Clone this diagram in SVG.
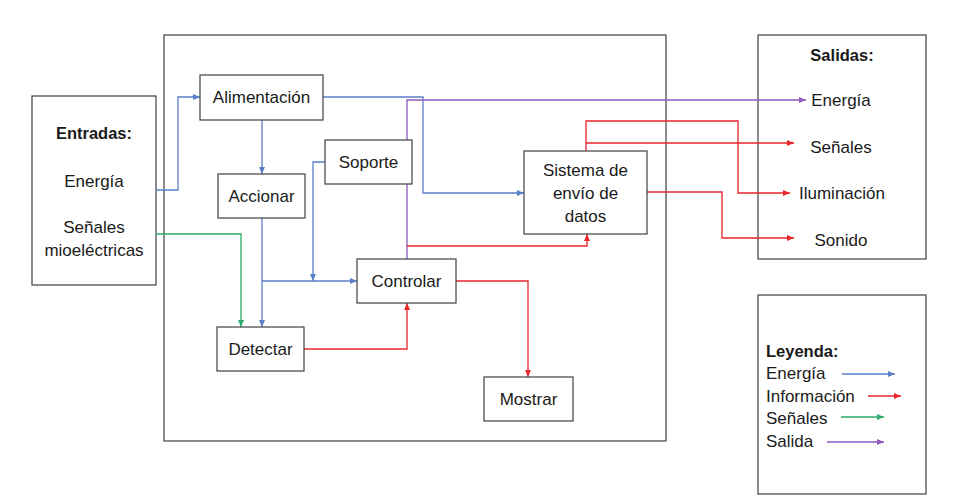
<svg xmlns="http://www.w3.org/2000/svg" width="955" height="499" viewBox="0 0 955 499">
<style>
.box{fill:#fff;stroke:#404040;stroke-width:1.2}
.t{font-family:"Liberation Sans",Arial,sans-serif;font-size:17px;fill:#1a1a1a;text-anchor:middle}
.b{font-weight:bold;font-size:16.5px}
.l{text-anchor:start}
.c{fill:none;stroke-width:1.3}
.bl{stroke:#5B7FC7}
.rd{stroke:#E8262B}
.gr{stroke:#2EAA6A}
.pu{stroke:#8E5BBF}
</style>
<defs>
<marker id="ab" markerUnits="userSpaceOnUse" markerWidth="8" markerHeight="8" refX="7" refY="4" orient="auto"><path d="M0,1 L7,4 L0,7 Z" fill="#5B7FC7"/></marker>
<marker id="ar" markerUnits="userSpaceOnUse" markerWidth="8" markerHeight="8" refX="7" refY="4" orient="auto"><path d="M0,1 L7,4 L0,7 Z" fill="#E8262B"/></marker>
<marker id="ag" markerUnits="userSpaceOnUse" markerWidth="8" markerHeight="8" refX="7" refY="4" orient="auto"><path d="M0,1 L7,4 L0,7 Z" fill="#2EAA6A"/></marker>
<marker id="ap" markerUnits="userSpaceOnUse" markerWidth="8" markerHeight="8" refX="7" refY="4" orient="auto"><path d="M0,1 L7,4 L0,7 Z" fill="#8E5BBF"/></marker>
</defs>
<rect width="955" height="499" fill="#fff"/>
<g id="sistema-principal"><rect class="box" x="164" y="35" width="502" height="406"/></g>
<g id="entradas">
<rect class="box" x="32" y="96" width="124" height="189"/>
<text class="t b" x="94" y="139">Entradas:</text>
<text class="t" x="94" y="187">Energía</text>
<text class="t" x="94" y="233">Señales</text>
<text class="t" x="94" y="256">mioeléctricas</text>
</g>
<g id="salidas">
<rect class="box" x="758" y="35" width="168" height="224"/>
<text class="t b" x="842" y="61">Salidas:</text>
<text class="t" x="841" y="106">Energía</text>
<text class="t" x="841" y="153">Señales</text>
<text class="t" x="842" y="199">Iluminación</text>
<text class="t" x="841" y="246">Sonido</text>
</g>
<g id="leyenda">
<rect class="box" x="758" y="295" width="168" height="199"/>
<text class="t b l" x="766" y="357">Leyenda:</text>
<text class="t l" x="766" y="379">Energía</text>
<text class="t l" x="766" y="402">Información</text>
<text class="t l" x="766" y="424">Señales</text>
<text class="t l" x="766" y="447">Salida</text>
<line class="c bl" x1="842" y1="374" x2="895" y2="374" marker-end="url(#ab)"/>
<line class="c rd" x1="868" y1="396" x2="901" y2="396" marker-end="url(#ar)"/>
<line class="c gr" x1="841" y1="417" x2="884" y2="417" marker-end="url(#ag)"/>
<line class="c pu" x1="827" y1="442" x2="884" y2="442" marker-end="url(#ap)"/>
</g>
<g id="connectors">
<polyline class="c bl" points="156,190 178,190 178,97 200,97" marker-end="url(#ab)"/>
<polyline class="c bl" points="262,120 262,174" marker-end="url(#ab)"/>
<polyline class="c bl" points="323,97 423,97 423,193 524,193" marker-end="url(#ab)"/>
<polyline class="c bl" points="262,218 262,327" marker-end="url(#ab)"/>
<polyline class="c bl" points="262,281 357,281" marker-end="url(#ab)"/>
<polyline class="c bl" points="325,162 313,162 313,281" marker-end="url(#ab)"/>
<polyline class="c gr" points="156,234 241,234 241,327" marker-end="url(#ag)"/>
<polyline class="c rd" points="304,349 407,349 407,303" marker-end="url(#ar)"/>
<polyline class="c pu" points="407,259 407,100 806,100" marker-end="url(#ap)"/>
<polyline class="c rd" points="407,246 587,246 587,234" marker-end="url(#ar)"/>
<polyline class="c rd" points="586,151 586,121 738,121 738,193 790,193" marker-end="url(#ar)"/>
<polyline class="c rd" points="586,143 794,143" marker-end="url(#ar)"/>
<polyline class="c rd" points="647,192 722,192 722,238 794,238" marker-end="url(#ar)"/>
<polyline class="c rd" points="456,281 528,281 528,377" marker-end="url(#ar)"/>
</g>
<g id="alimentacion"><rect class="box" x="200" y="75" width="123" height="45"/><text class="t" x="261.5" y="103">Alimentación</text></g>
<g id="accionar"><rect class="box" x="218" y="174" width="87" height="44"/><text class="t" x="261.5" y="202">Accionar</text></g>
<g id="soporte"><rect class="box" x="325" y="140" width="87" height="44"/><text class="t" x="368.5" y="168">Soporte</text></g>
<g id="detectar"><rect class="box" x="217" y="327" width="87" height="44"/><text class="t" x="260.5" y="355">Detectar</text></g>
<g id="controlar"><rect class="box" x="357" y="259" width="99" height="44"/><text class="t" x="406.5" y="287">Controlar</text></g>
<g id="sistema-envio"><rect class="box" x="524" y="151" width="123" height="83"/>
<text class="t" x="585.5" y="176">Sistema de</text>
<text class="t" x="585.5" y="199">envío de</text>
<text class="t" x="585.5" y="222">datos</text></g>
<g id="mostrar"><rect class="box" x="484" y="377" width="89" height="44"/><text class="t" x="528.5" y="405">Mostrar</text></g>
</svg>
